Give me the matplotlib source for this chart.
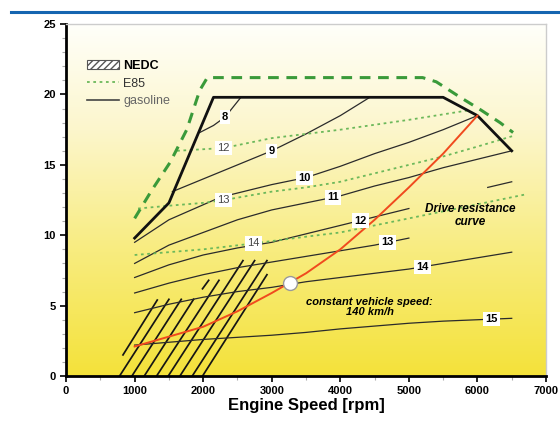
import numpy as np
import matplotlib
matplotlib.use("Agg")
import matplotlib.pyplot as plt
from matplotlib.colors import LinearSegmentedColormap
from matplotlib.patches import Patch
from matplotlib.lines import Line2D

plt.rcParams.update({"font.family": ["Liberation Sans Narrow", "Liberation Sans", "DejaVu Sans"],
                     "font.size": 8, "hatch.linewidth": 1.0})

# full-load lines
fl_gas_rpm = [1000, 1500, 2150, 5500, 6000, 6500]
fl_gas_bmep = [9.8, 12.3, 19.8, 19.8, 18.5, 16.0]
fl_e85_rpm = [1000, 1250, 1520, 1760, 1950, 2060, 5200, 5400, 5750, 6050, 6330, 6520]
fl_e85_bmep = [11.2, 13.2, 15.2, 17.5, 20.3, 21.2, 21.2, 20.9, 19.8, 18.9, 18.0, 17.3]

# gasoline iso-lines
g8_rpm = [1950, 2150, 2320, 2550]
g8_bmep = [17.3, 17.8, 18.4, 19.8]
g9_rpm = [1550, 2000, 2500, 3000, 3500, 4000, 4430]
g9_bmep = [13.1, 14.0, 15.0, 16.0, 17.2, 18.5, 19.8]
g10_rpm = [1000, 1500, 2250, 3000, 3500, 4000, 4500, 5000, 5500, 6000]
g10_bmep = [9.5, 11.1, 12.7, 13.6, 14.1, 14.9, 15.8, 16.6, 17.5, 18.5]
g11_rpm = [1000, 1500, 2000, 2500, 3000, 3500, 4000, 4500, 5000, 5500, 6000, 6500]
g11_bmep = [8.0, 9.3, 10.2, 11.1, 11.8, 12.3, 12.8, 13.5, 14.1, 14.8, 15.4, 16.0]
g12_rpm = [1000, 1500, 2000, 2500, 3000, 3500, 4000, 4500, 5000]
g12_bmep = [7.0, 7.9, 8.6, 9.1, 9.5, 10.1, 10.7, 11.3, 11.9]
g12b_rpm = [6150, 6500]
g12b_bmep = [13.4, 13.8]
g13_rpm = [1000, 1500, 2000, 2500, 3000, 3500, 4000, 4500, 5000]
g13_bmep = [5.9, 6.6, 7.2, 7.7, 8.1, 8.5, 8.9, 9.3, 9.8]
g14_rpm = [1000, 1500, 2000, 2500, 3000, 3500, 4000, 4500, 5000, 5500, 6000, 6500]
g14_bmep = [4.5, 5.1, 5.6, 6.0, 6.3, 6.7, 7.0, 7.3, 7.6, 8.0, 8.4, 8.8]
g15_rpm = [1000, 1500, 2000, 2500, 3000, 3500, 4000, 4500, 5000, 5500, 6000, 6500]
g15_bmep = [2.2, 2.4, 2.6, 2.75, 2.9, 3.1, 3.35, 3.55, 3.75, 3.9, 4.0, 4.1]

# E85 iso-lines
e12_rpm = [1620, 2300, 3000, 4000, 5000, 5900]
e12_bmep = [16.0, 16.2, 16.9, 17.5, 18.2, 18.9]
e13_rpm = [1050, 1500, 2000, 2300, 3000, 3500, 4000, 4500, 5000, 5500, 6000, 6550]
e13_bmep = [11.9, 12.1, 12.3, 12.5, 13.1, 13.4, 13.8, 14.4, 15.0, 15.6, 16.3, 17.1]
e14_rpm = [1000, 1500, 2000, 2700, 3500, 4000, 4500, 5000, 5500, 6000, 6700]
e14_bmep = [8.6, 8.8, 9.0, 9.4, 9.9, 10.2, 10.7, 11.2, 11.7, 12.2, 12.9]

# drive resistance curve
road_rpm = [1000, 1500, 2000, 2500, 3000, 3500, 4000, 4500, 5000, 5500, 6000]
road_bmep = [2.1, 2.8, 3.5, 4.6, 5.9, 7.3, 9.0, 11.1, 13.4, 15.8, 18.5]
v140_rpm = 3265

# NEDC operating area, hatch strokes
nedc_x0 = [830, 780, 960, 1140, 1990, 1320, 1490, 1660, 1840, 1990]
nedc_y0 = [1.5, 0, 0, 0, 6.2, 0, 0, 0, 0, 0]
nedc_x1 = [1330, 1500, 1680, 1860, 2080, 2230, 2580, 2750, 2930, 2930]
nedc_y1 = [5.4, 5.45, 5.45, 5.45, 6.8, 6.8, 8.2, 8.2, 8.2, 7.2]

gas_lines = [("8", g8_rpm, g8_bmep, 2320), ("9", g9_rpm, g9_bmep, 3000),
             ("10", g10_rpm, g10_bmep, 3480), ("11", g11_rpm, g11_bmep, 3890),
             ("12", g12_rpm, g12_bmep, 4290), ("13", g13_rpm, g13_bmep, 4690),
             ("14", g14_rpm, g14_bmep, 5200), ("15", g15_rpm, g15_bmep, 6210)]
e85_lines = [("12", e12_rpm, e12_bmep, 2290), ("13", e13_rpm, e13_bmep, 2290),
             ("14", e14_rpm, e14_bmep, 2730)]

GREEN = "#3a9a3a"
DOT = "#6cb85a"

fig = plt.figure(figsize=(5.6, 4.23), dpi=100)
ax = fig.add_axes([0.118, 0.111, 0.857, 0.832])
fig.add_artist(Line2D([0.02, 1.0], [0.971, 0.971], transform=fig.transFigure,
                      color="#1565b0", lw=2.2))

# background gradient
cmap = LinearSegmentedColormap.from_list("bg", [(0, "#f4e23a"), (0.35, "#f8ec7e"),
                                               (0.7, "#fcf6cc"), (1, "#fffffa")])
ax.imshow(np.linspace(0, 1, 256).reshape(-1, 1), extent=[0, 7000, 0, 25],
          origin="lower", aspect="auto", cmap=cmap, zorder=0)

for x0, y0, x1, y1 in zip(nedc_x0, nedc_y0, nedc_x1, nedc_y1):
    ax.plot([x0, x1], [y0, y1], color="#151515", lw=1.25, zorder=2)

for lab, xs, ys, xl in gas_lines:
    ax.plot(xs, ys, color="#2b2b2b", lw=0.9, zorder=3)
    ax.text(xl, np.interp(xl, xs, ys), lab, ha="center", va="center", fontsize=8,
            fontweight="bold", zorder=6,
            bbox=dict(boxstyle="square,pad=0.2", fc="white", ec="none"))
ax.plot(g12b_rpm, g12b_bmep, color="#2b2b2b", lw=0.9, zorder=3)

for lab, xs, ys, xl in e85_lines:
    ax.plot(xs, ys, color=DOT, lw=1.3, ls=(0, (1.5, 2)), zorder=3)
    ax.text(xl, np.interp(xl, xs, ys), lab, ha="center", va="center", fontsize=8,
            color="#444444", zorder=6,
            bbox=dict(boxstyle="square,pad=0.2", fc="white", ec="none"))

ax.plot(fl_e85_rpm, fl_e85_bmep, color=GREEN, lw=2.2, ls=(0, (3.5, 2.5)), zorder=4)
ax.plot(fl_gas_rpm, fl_gas_bmep, color="#111111", lw=2.0, zorder=4)

ax.plot(road_rpm, road_bmep, color="#f04a1e", lw=1.4, zorder=5)
ax.plot([v140_rpm], [np.interp(v140_rpm, road_rpm, road_bmep)], "o", ms=10,
        mfc="white", mec="#9a9a9a", mew=1.0, zorder=7)

ax.text(5900, 11.4, "Drive resistance\ncurve", ha="center", va="center",
        fontsize=8.5, style="italic", fontweight="bold", linespacing=1.1, zorder=6)
ax.text(4430, 4.9, "constant vehicle speed:\n140 km/h", ha="center", va="center",
        fontsize=8, style="italic", fontweight="bold", linespacing=1.1, zorder=6)

handles = [Patch(facecolor="white", edgecolor="#555555", hatch="/////", lw=0.8),
           Line2D([], [], color=DOT, lw=1.3, ls=(0, (1.5, 2))),
           Line2D([], [], color="#444444", lw=1.2)]
leg = ax.legend(handles, ["NEDC", "E85", "gasoline"], loc="upper left",
                bbox_to_anchor=(0.02, 0.93), frameon=False, fontsize=9,
                handlelength=2.6, handletextpad=0.3, labelspacing=0.45)
txts = leg.get_texts()
txts[0].set_fontweight("bold")
txts[1].set_color("#333333")
txts[2].set_color("#666666")

ax.set_xlim(0, 7000)
ax.set_ylim(0, 25)
ax.set_xticks(range(0, 7001, 1000))
ax.set_yticks(range(0, 26, 5))
ax.set_xticks(range(500, 7000, 1000), minor=True)
ax.set_yticks([v for v in range(1, 25) if v % 5], minor=True)
ax.tick_params(which="major", length=4, width=1.2, labelsize=8)
ax.tick_params(which="minor", length=3, width=0.8, color="#aaaaaa")
for lbl in ax.get_xticklabels() + ax.get_yticklabels():
    lbl.set_fontweight("bold")
for s in ["left", "bottom"]:
    ax.spines[s].set_linewidth(2.0)
for s in ["top", "right"]:
    ax.spines[s].set_color("#cccccc")
    ax.spines[s].set_linewidth(1.0)
ax.set_xlabel("Engine Speed [rpm]", fontsize=12, fontweight="bold", labelpad=1)

fig.savefig("out.png", dpi=100)
